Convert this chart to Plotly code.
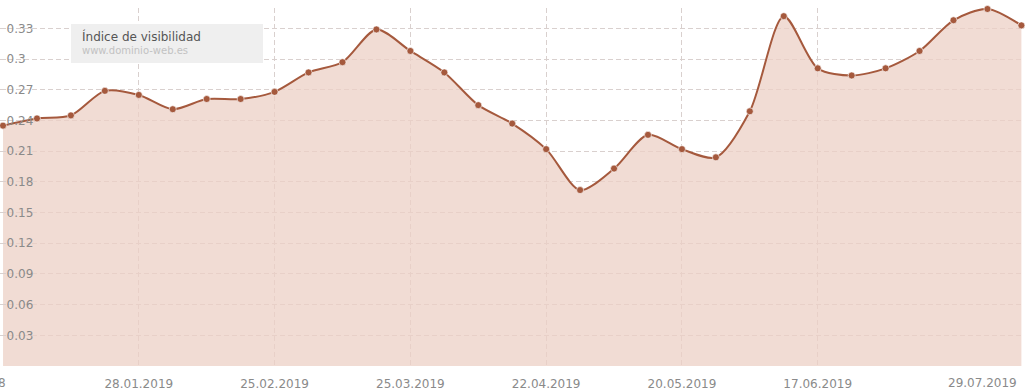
import plotly.graph_objects as go
import pandas as pd

# ---- data ----
dates = pd.date_range("2018-12-31", periods=31, freq="7D")
visibility = [0.235, 0.242, 0.245, 0.269, 0.265, 0.251, 0.261, 0.261, 0.268, 0.287,
              0.297, 0.329, 0.308, 0.287, 0.255, 0.237, 0.212, 0.172, 0.193, 0.226,
              0.212, 0.204, 0.249, 0.342, 0.291, 0.284, 0.291, 0.308, 0.338, 0.349, 0.333]
x_tick_dates = ["2018-12-31", "2019-01-28", "2019-02-25", "2019-03-25", "2019-04-22",
                "2019-05-20", "2019-06-17", "2019-07-29"]
x_tick_labels = ["31.12.2018", "28.01.2019", "25.02.2019", "25.03.2019", "22.04.2019",
                 "20.05.2019", "17.06.2019", "29.07.2019"]
y_tick_vals = [0.03, 0.06, 0.09, 0.12, 0.15, 0.18, 0.21, 0.24, 0.27, 0.3, 0.33]
y_tick_labels = ["0.03", "0.06", "0.09", "0.12", "0.15", "0.18", "0.21", "0.24", "0.27", "0.3", "0.33"]
series_name = "Índice de visibilidad"
domain_label = "www.dominio-web.es"

LINE = "#a5593d"
FILL = "rgba(236,208,198,0.75)"
GRID = "#d9d0ce"
TXT = "#8a8a8a"
FONT = "DejaVu Sans, Verdana, sans-serif"

fig = go.Figure()
fig.add_trace(go.Scatter(
    x=dates, y=visibility, mode="lines+markers",
    line=dict(color=LINE, width=2, shape="spline", smoothing=0.8),
    marker=dict(color=LINE, size=7, line=dict(color="rgba(255,255,255,0.6)", width=1)),
    fill="tozeroy", fillcolor=FILL, cliponaxis=False, showlegend=False,
    hoverinfo="x+y",
))

first = pd.Timestamp(x_tick_dates[0])
last = pd.Timestamp(x_tick_dates[-1])
inner_text = [""] + x_tick_labels[1:-1] + [""]

fig.update_layout(
    width=1025, height=392,
    margin=dict(l=0, r=3, t=8, b=26),
    paper_bgcolor="white", plot_bgcolor="white",
    font=dict(family=FONT, size=12, color=TXT),
    xaxis=dict(
        range=[first - pd.Timedelta(hours=15), last + pd.Timedelta(hours=3)],
        tickvals=pd.to_datetime(x_tick_dates), ticktext=inner_text,
        showgrid=True, gridcolor=GRID, griddash="5px,3px", gridwidth=1,
        showline=False, zeroline=False, ticks="", ticklen=0,
        ticklabelstandoff=9,
        tickfont=dict(family=FONT, size=12, color=TXT),
    ),
    yaxis=dict(
        range=[0, 0.35], tickvals=y_tick_vals, ticktext=y_tick_labels,
        ticklabelposition="inside", ticks="inside", ticklen=6, tickcolor=GRID,
        showgrid=True, gridcolor=GRID, griddash="5px,3px", gridwidth=1,
        zeroline=False, showline=True, linecolor="#e4e0df", linewidth=1,
        tickfont=dict(family=FONT, size=12, color=TXT),
    ),
)

# edge x labels (first clipped on the left, last pulled inside)
fig.add_annotation(x=first, y=0, xref="x", yref="paper", yanchor="middle", yshift=-17,
                   xanchor="right", xshift=5, text=x_tick_labels[0], showarrow=False,
                   font=dict(family=FONT, size=12, color=TXT))
fig.add_annotation(x=last, y=0, xref="x", yref="paper", yanchor="middle", yshift=-17,
                   xanchor="right", xshift=-2, text=x_tick_labels[-1], showarrow=False,
                   font=dict(family=FONT, size=12, color=TXT))

# legend box
W, H = 1022.0, 358.0
def px(x):
    return x / W
def py(y):
    return (366 - y) / H

fig.add_shape(type="rect", xref="paper", yref="paper",
              x0=px(71), x1=px(263), y0=py(63), y1=py(24),
              fillcolor="#efefef", line=dict(width=0), layer="above")
fig.add_annotation(xref="paper", yref="paper", x=px(80), y=py(36), xanchor="left",
                   yanchor="middle", text=series_name, showarrow=False,
                   font=dict(family=FONT, size=12, color="#555555"))
# blurred domain text
fig.add_annotation(xref="paper", yref="paper", x=px(80), y=py(51), xanchor="left",
                   yanchor="middle", text=domain_label, showarrow=False,
                   font=dict(family=FONT, size=10, color="#c2c2c2"))

fig.write_html("out.html")
